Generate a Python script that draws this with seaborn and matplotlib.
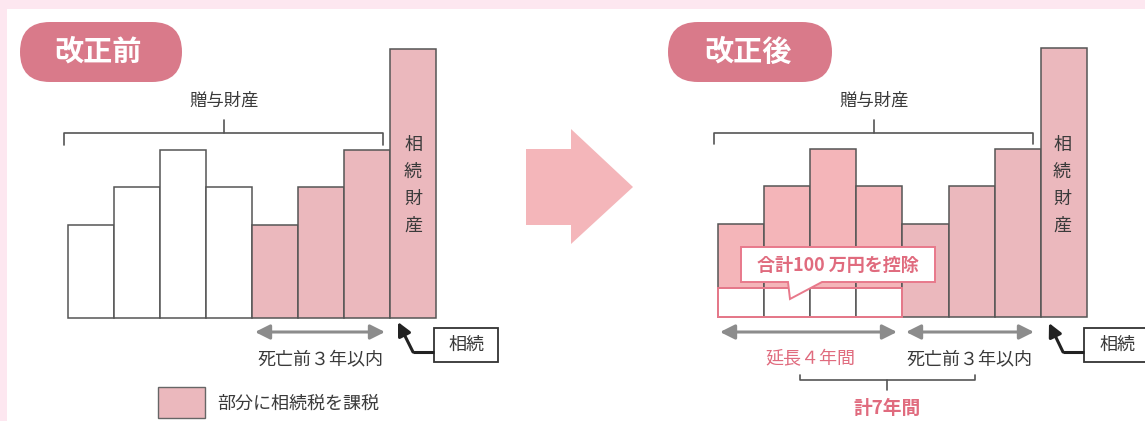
import matplotlib
matplotlib.use('Agg')
import matplotlib.pyplot as plt
import seaborn as sns
from matplotlib.patches import Rectangle, FancyBboxPatch, Polygon

sns.set_style('white')
plt.rcParams['font.family'] = ['Noto Sans CJK JP', 'DejaVu Sans']

# ---- data ----
periods = ['7年前', '6年前', '5年前', '4年前', '3年前', '2年前', '1年前', '相続財産']
amounts = [2.5, 3.5, 4.5, 3.5, 2.5, 3.5, 4.5, 7.2]
deduction = [0.79, 0.79, 0.79, 0.79]
before_colors = ['#ffffff'] * 4 + ['#ebb8bd'] * 4
after_colors = ['#f4b5b9'] * 4 + ['#ebb8bd'] * 4
panel_titles = ['改正前', '改正後']
gift_label = '贈与財産'
estate_label = '相続財産'
inherit_label = '相続'
within3_label = '死亡前３年以内'
extended_label = '延長４年間'
total_label = '計7年間'
deduct_label = '合計100 万円を控除'
legend_label = '部分に相続税を課税'

# ---- style ----
PINK_BG = '#fde7f0'
PILL = '#d97a8a'
PINK_TXT = '#e06b7e'
PINK_LINE = '#e8798b'
GRAY_TXT = '#3a3a3a'
EDGE = '#555555'
ARROW_GRAY = '#8c8c8c'
BIG_ARROW = '#f4b6ba'

W, H = 1145, 421
fig = plt.figure(figsize=(W / 100, H / 100), dpi=100)
fig.patch.set_facecolor(PINK_BG)

bg = fig.add_axes([0, 0, 1, 1], zorder=0)
bg.set_xlim(0, W); bg.set_ylim(H, 0); bg.axis('off')
bg.add_patch(Rectangle((7, 9), W - 7, H - 9, facecolor='white', edgecolor='none'))

UNIT = 37.3


def bar_axes(x0, x1, base):
    ax = fig.add_axes([x0 / W, (H - base) / H, (x1 - x0) / W, 8 * UNIT / H], zorder=1)
    ax.set_facecolor('none')
    return ax


def draw_bars(ax, colors):
    sns.barplot(x=periods, y=amounts, hue=periods,
                palette=dict(zip(periods, colors)), width=1, saturation=1,
                edgecolor=EDGE, linewidth=1.1, errorbar=None, legend=False, ax=ax)


axL = bar_axes(67.7, 436, 318)
draw_bars(axL, before_colors)

axR = bar_axes(717.7, 1087, 317)
draw_bars(axR, after_colors)
sns.barplot(x=periods[:4], y=deduction, color='white', width=1, saturation=1,
            edgecolor=EDGE, linewidth=1.1, errorbar=None, ax=axR)
axR.add_patch(Rectangle((-0.5, 0), 4, deduction[0], facecolor='none',
                        edgecolor=PINK_LINE, linewidth=1.4, zorder=5))

for ax in (axL, axR):
    ax.set_xlim(-0.5, 7.5)
    ax.set_ylim(0, 8)
    ax.axis('off')
    for p in ax.patches:
        p.set_clip_on(False)

# ---- overlay ----
ov = fig.add_axes([0, 0, 1, 1], zorder=2)
ov.set_facecolor('none')
ov.set_xlim(0, W); ov.set_ylim(H, 0); ov.axis('off')

# title pills
for (x, w, cx), title in zip([(20, 162, 98), (668, 164, 748)], panel_titles):
    ov.add_patch(FancyBboxPatch((x, 22), w, 60, boxstyle='round,pad=0,rounding_size=30',
                                facecolor=PILL, edgecolor='none'))
    ov.text(cx, 52, title, color='white', fontsize=21, fontweight='bold',
            ha='center', va='center')

# big arrow
ov.add_patch(Polygon([(526, 149), (571, 149), (571, 129), (633, 187),
                      (571, 244), (571, 225), (526, 225)],
                     closed=True, facecolor=BIG_ARROW, edgecolor='none'))

# gift brackets
for x0, x1, cx, yend in [(64, 383, 224, 145), (714, 1033, 874, 144)]:
    ov.plot([x0, x0, x1, x1], [yend, 133, 133, yend], color=EDGE, lw=1.2)
    ov.plot([cx, cx], [120, 133], color=EDGE, lw=1.2)
    ov.text(cx, 101, gift_label, color=GRAY_TXT, fontsize=12.5, ha='center', va='center')

# vertical estate labels
for x in (413, 1062):
    for i, ch in enumerate(estate_label):
        ov.text(x, 145 + 26.8 * i, ch, color=GRAY_TXT, fontsize=13,
                ha='center', va='center')


def darrow(x0, x1, y):
    ov.annotate('', xy=(x1, y), xytext=(x0, y),
                arrowprops=dict(arrowstyle='<|-|>', color=ARROW_GRAY, lw=2.2,
                                mutation_scale=22, shrinkA=0, shrinkB=0))


darrow(255, 385, 332)
ov.text(320, 359, within3_label, color=GRAY_TXT, fontsize=13, ha='center', va='center')
darrow(720, 897, 332)
darrow(906, 1034, 332)
ov.text(810, 359, extended_label, color=PINK_TXT, fontsize=13, ha='center', va='center')
ov.text(969, 359, within3_label, color=GRAY_TXT, fontsize=13, ha='center', va='center')

# total bracket
ov.plot([800, 800, 975, 975], [375, 380, 380, 375], color=EDGE, lw=1.2)
ov.plot([887, 887], [380, 390], color=EDGE, lw=1.2)
ov.text(887, 408, total_label, color=PINK_TXT, fontsize=13.5, fontweight='bold',
        ha='center', va='center')

# inheritance callouts
for bx, bw, tx, cx, tipx, tipy in [(434, 64, 466, 413, 398, 322),
                                  (1084, 80, 1117, 1063, 1049, 323)]:
    ov.add_patch(Rectangle((bx, 328), bw, 34, facecolor='white', edgecolor='#333333', lw=1.3))
    ov.text(tx, 345, inherit_label, color=GRAY_TXT, fontsize=13, ha='center', va='center')
    ov.plot([bx, cx], [352, 352], color='#222222', lw=2.2, solid_capstyle='butt')
    ov.annotate('', xy=(tipx, tipy), xytext=(cx, 352),
                arrowprops=dict(arrowstyle='-|>', color='#222222', lw=2.2,
                                mutation_scale=20, shrinkA=0, shrinkB=0))

# deduction speech bubble
ov.add_patch(Polygon([(741, 247), (935, 247), (935, 282), (822, 282), (790, 299),
                      (788, 282), (741, 282)], closed=True,
                     facecolor='white', edgecolor=PINK_LINE, lw=1.4))
ov.text(838, 265, deduct_label, color=PINK_TXT, fontsize=13, fontweight='bold',
        ha='center', va='center')

# legend
ov.add_patch(Rectangle((158, 387), 47, 31, facecolor='#ebb8bd', edgecolor='#666666', lw=1.0))
ov.text(217, 404, legend_label, color=GRAY_TXT, fontsize=13, ha='left', va='center')

fig.savefig('out.png', dpi=100, facecolor=fig.get_facecolor())
